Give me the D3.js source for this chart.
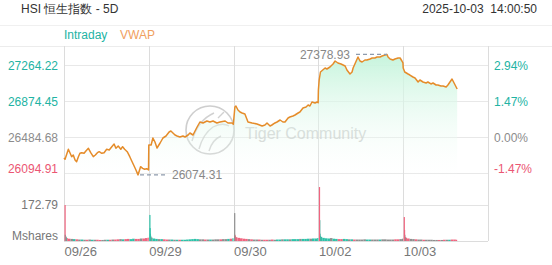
<!DOCTYPE html>
<html><head><meta charset="utf-8">
<script src="https://cdn.jsdelivr.net/npm/d3@7"></script>
<style>
body{margin:0;background:#fff;}
svg{display:block;font-family:"Liberation Sans",Arial,sans-serif;}
</style>
</head><body>
<svg id="c" width="552" height="265"></svg>
<script>
// ---------------- data ----------------
const title = "HSI 恒生指数 - 5D";
const stamp = "2025-10-03  14:00:50";
const tabs = ["Intraday", "VWAP"];
const dayLabels = ["09/26", "09/29", "09/30", "10/02", "10/03"];
const minutesPerDay = 330;
const prevClose = 26484.68;
const priceTicks = [26094.91, 26484.68, 26874.45, 27264.22];
const pctTicks = ["-1.47%", "0.00%", "1.47%", "2.94%"];
const volTick = 172.79;
const volUnit = "Mshares";
const highMinute = 1257, highValue = 27378.93;
const lowMinute = 288, lowValue = 26074.31;

// minute index from the first open (330 trading minutes per day)
const priceMinutes = [
  0,4,17,30,36,43,49,56,62,69,78,86,95,104,114,122,130,137,147,156,166,176,186,195,202,211,221,228,236,246,256,265,271,280,288,298,306,314,322,329,
  330,339,346,354,362,374,385,397,409,416,424,432,440,451,463,471,483,490,502,518,529,541,556,568,580,595,607,627,638,654,659,
  665,669,677,685,693,704,716,732,751,771,782,790,802,809,821,829,841,852,860,872,879,891,899,911,918,930,942,950,957,965,977,985,989,
  990,993,998,1016,1023,1035,1047,1055,1066,1078,1086,1094,1101,1113,1121,1125,1132,1144,1152,1160,1171,1179,1191,1199,1210,1218,1230,1238,1249,1257,1261,1269,1280,1288,1300,1308,1315,1319,
  1320,1326,1339,1346,1358,1366,1378,1385,1397,1409,1416,1428,1436,1448,1455,1467,1475,1487,1494,1502,1510,1518,1526,1530
];
const priceValues = [
  26257.3,26243.2,26351.4,26271.3,26289.8,26235.7,26217.3,26271.4,26308.3,26314.7,26308.2,26336.4,26362.4,26314.7,26271.4,26289.8,26314.7,26325.5,26308.2,26314.7,26351.5,26343.9,26379.7,26408.9,26362.3,26387.2,26351.5,26379.7,26351.5,26325.5,26271.4,26217.3,26181.5,26127.4,26074.31,26163.2,26145.8,26135.0,26141.5,26128.2,
  26398.1,26398.1,26473.9,26430.5,26365.6,26419.7,26473.9,26495.5,26538.8,26549.6,26528.0,26506.3,26495.5,26484.7,26495.5,26484.7,26506.3,26528.0,26506.3,26592.9,26647.1,26636.3,26657.9,26647.1,26657.9,26636.3,26647.1,26657.9,26636.3,26636.3,26622.9,
  26809.5,26820.3,26777.0,26755.4,26744.5,26733.7,26647.1,26636.3,26625.4,26603.8,26614.6,26636.3,26603.8,26614.6,26636.3,26647.1,26668.7,26647.1,26647.1,26690.4,26701.2,26712.0,26722.9,26744.5,26755.4,26798.7,26809.5,26831.1,26820.3,26863.6,26852.8,26863.6,26855.6,
  26993.5,27101.8,27188.4,27231.7,27220.9,27242.6,27275.0,27307.5,27285.9,27275.0,27264.2,27253.4,27210.1,27166.8,27188.4,27231.7,27275.0,27350.8,27307.5,27296.7,27318.3,27318.3,27329.2,27340.0,27340.0,27350.8,27350.8,27361.7,27372.5,27378.93,27350.8,27329.2,27318.3,27329.2,27340.0,27340.0,27307.5,27287.1,
  27231.7,27188.4,27166.8,27155.9,27134.3,27123.5,27080.2,27101.8,27080.2,27069.3,27080.2,27058.6,27069.3,27047.7,27047.7,27036.9,27036.9,27026.0,27047.7,27080.2,27112.6,27069.3,27026.0,27004.4
];

// volume (M shares): first five minutes of each day, then 10-minute buckets (per-minute level)
const volOpen = [
  [172.79, 30, 24, 20, 18],
  [125, 62, 35, 25, 20],
  [134, 30, 25, 20, 18],
  [259, 100, 35, 25, 20],
  [115, 53, 30, 20, 15]
];
const volOpenDir = ["duduu", "uuuud", "nddnd", "duuun", "ddnnn"];
const volBuckets = [
  [14,11,10,9,8,7,7,6,6,7,6,6,6,5,5,6,6,6,7,7,8,9,8,9,10,9,11,10,10,12,12,14,16],
  [16,12,10,9,9,8,7,7,7,6,6,6,6,6,7,8,9,10,9,8,8,7,7,7,7,8,8,8,9,9,10,11,13],
  [18,15,13,11,10,9,8,7,7,7,6,6,6,6,7,6,7,7,8,8,8,8,9,9,9,10,10,10,11,11,12,12,14],
  [20,15,13,12,14,11,10,9,9,10,9,8,8,7,7,7,7,8,7,7,7,7,7,7,8,8,7,7,7,8,8,9,11],
  [16,12,10,9,8,7,7,6,6,6,6,5,5,5,5,6,6,6,7,7,6]
];
const volBucketDir = [
  "ddnudnundnunddnnudnddnudduuddnddd",
  "uuunuddnunuduuuuuuunndnunnndnnudu",
  "dddddndnndnddndnuunuunuuunuuunuuu",
  "uuuunuudduunudnnnnuunnnunnnnnddnn",
  "ddnndnndnnnnndndnuddd"
];
const lastMinute = 1530;

// ---------------- layout ----------------
const W = 552, H = 265;
const L = 64, R = 488;
const frameTop = 46, priceBottom = 183, volBottom = 241;
const teal = "#22b3a3", red = "#eb5673", grayTxt = "#8c8c8c";
const dirColor = {u: "#2ec2a9", d: "#f0647f", n: "#8f8f8f"};

const svg = d3.select("#c");
const totalMin = minutesPerDay * dayLabels.length;
const x = d3.scaleLinear().domain([0, totalMin]).range([L, R]);
const y = d3.scaleLinear().domain([priceTicks[0], priceTicks[3]]).range([173, 65]);
const yv = d3.scaleLinear().domain([0, volTick]).range([volBottom, 205]);

// header
svg.append("text").attr("x", 21).attr("y", 13).attr("font-size", 12).attr("fill", "#333").text(title);
svg.append("text").attr("x", 537).attr("y", 13).attr("text-anchor", "end").attr("font-size", 12)
  .attr("fill", "#333").style("white-space", "pre").text(stamp);
svg.append("line").attr("x1", 0).attr("x2", W).attr("y1", 25.5).attr("y2", 25.5).attr("stroke", "#f0f0f0");
svg.append("line").attr("x1", 0).attr("x2", W).attr("y1", frameTop + 0.5).attr("y2", frameTop + 0.5).attr("stroke", "#ececec");
svg.append("text").attr("x", 64).attr("y", 39).attr("font-size", 12).attr("fill", teal).text(tabs[0]);
svg.append("text").attr("x", 120).attr("y", 39).attr("font-size", 12).attr("fill", "#f0a060").text(tabs[1]);

// gridlines
svg.append("g").selectAll("line").data(priceTicks).join("line")
  .attr("x1", L).attr("x2", R).attr("y1", d => Math.round(y(d)) + 0.5).attr("y2", d => Math.round(y(d)) + 0.5)
  .attr("stroke", "#e8e8e8");
svg.append("line").attr("x1", L).attr("x2", R).attr("y1", Math.round(yv(volTick)) + 0.5).attr("y2", Math.round(yv(volTick)) + 0.5).attr("stroke", "#e3e3e3");
svg.append("line").attr("x1", L).attr("x2", R).attr("y1", volBottom + 0.5).attr("y2", volBottom + 0.5).attr("stroke", "#dcdcdc");
const bounds = d3.range(dayLabels.length + 1).map(i => i * minutesPerDay);
svg.append("g").selectAll("line").data(bounds).join("line")
  .attr("x1", d => Math.round(x(d)) + 0.5).attr("x2", d => Math.round(x(d)) + 0.5)
  .attr("y1", frameTop).attr("y2", volBottom)
  .attr("stroke", "#dcdcdc");

// watermark
const wm = svg.append("g").attr("opacity", 0.8);
wm.append("circle").attr("cx", 210).attr("cy", 130).attr("r", 24).attr("fill", "none").attr("stroke", "#c2c2c2").attr("stroke-width", 1.6);
wm.append("path").attr("d", "M192,141 Q198,120 214,113 M199,149 Q203,134 213,127 Q222,122 229,126 M209,151 Q212,140 221,136 M218,118 L224,112")
  .attr("fill", "none").attr("stroke", "#c6c6c6").attr("stroke-width", 1.4);
wm.append("text").attr("x", 245).attr("y", 139).attr("font-size", 16).attr("fill", "#c2c2c2").text("Tiger Community");

// price area & line
const pts = priceMinutes.map((m, i) => ({m, v: priceValues[i]}));
const defs = svg.append("defs");
const g = defs.append("linearGradient").attr("id", "fillg").attr("gradientUnits", "userSpaceOnUse")
  .attr("x1", 0).attr("y1", y(highValue)).attr("x2", 0).attr("y2", priceBottom);
g.append("stop").attr("offset", 0).attr("stop-color", "#c6f4dc").attr("stop-opacity", 1);
g.append("stop").attr("offset", 1).attr("stop-color", "#ffffff").attr("stop-opacity", 0);
svg.append("path").datum(pts)
  .attr("d", d3.area().x(d => x(d.m)).y0(priceBottom).y1(d => y(d.v)))
  .attr("fill", "url(#fillg)");
svg.append("path").datum(pts)
  .attr("d", d3.line().x(d => x(d.m)).y(d => y(d.v)))
  .attr("fill", "none").attr("stroke", "#e58c2a").attr("stroke-width", 1.5).attr("stroke-linejoin", "round");

// high / low annotations
const hx = x(highMinute), hy = y(highValue);
svg.append("line").attr("x1", hx - 31).attr("x2", hx).attr("y1", hy).attr("y2", hy)
  .attr("stroke", "#8d9aac").attr("stroke-width", 1.2).attr("stroke-dasharray", "4,3");
svg.append("text").attr("x", hx - 37).attr("y", hy).attr("dy", "0.35em").attr("text-anchor", "end")
  .attr("font-size", 12).attr("fill", "#888").text(highValue.toFixed(2));
const lx = x(lowMinute), ly = y(lowValue);
svg.append("line").attr("x1", lx + 2).attr("x2", lx + 30).attr("y1", ly).attr("y2", ly)
  .attr("stroke", "#8d9aac").attr("stroke-width", 1.2).attr("stroke-dasharray", "4,3");
svg.append("text").attr("x", lx + 34).attr("y", ly).attr("dy", "0.35em")
  .attr("font-size", 12).attr("fill", "#888").text(lowValue.toFixed(2));

// axis labels
const tickColor = v => v > prevClose + 0.01 ? teal : (v < prevClose - 0.01 ? red : grayTxt);
priceTicks.forEach((v, i) => {
  const yy = y(v) + (i === 0 ? -4 : 1);
  svg.append("text").attr("x", 58).attr("y", yy).attr("dy", "0.35em").attr("text-anchor", "end")
    .attr("font-size", 12).attr("fill", tickColor(v)).text(v.toFixed(2));
  svg.append("text").attr("x", 494).attr("y", yy).attr("dy", "0.35em")
    .attr("font-size", 12).attr("fill", tickColor(v)).text(pctTicks[i]);
});
svg.append("text").attr("x", 58).attr("y", yv(volTick)).attr("dy", "0.35em").attr("text-anchor", "end")
  .attr("font-size", 12).attr("fill", "#777").text(volTick.toFixed(2));
svg.append("text").attr("x", 58).attr("y", 236).attr("dy", "0.35em").attr("text-anchor", "end")
  .attr("font-size", 12).attr("fill", "#777").text(volUnit);

// volume bars
const bars = [];
dayLabels.forEach((_, d) => {
  const base = d * minutesPerDay;
  volBuckets[d].forEach((v, i) => {
    const m0 = base + 5 + i * 10;
    const m1 = Math.min(m0 + 10, d === dayLabels.length - 1 ? lastMinute : base + minutesPerDay);
    bars.push({m0, m1, v, c: dirColor[volBucketDir[d][i]]});
  });
});
dayLabels.forEach((_, d) => {
  const base = d * minutesPerDay;
  for (let i = volOpen[d].length - 1; i >= 0; i--) {
    bars.push({m0: base + i, m1: base + i + 1, v: volOpen[d][i], c: dirColor[volOpenDir[d][i]], open: true});
  }
});
svg.append("g").selectAll("rect").data(bars).join("rect")
  .attr("x", b => b.open ? x(b.m0) + 0.5 : x(b.m0))
  .attr("width", b => b.open ? 1.2 : Math.max(0.8, x(b.m1) - x(b.m0)))
  .attr("y", b => yv(b.v))
  .attr("height", b => volBottom - yv(b.v))
  .attr("fill", b => b.c);

// date labels
svg.append("g").selectAll("text").data(dayLabels).join("text")
  .attr("x", (d, i) => x(i * minutesPerDay) + 0.5).attr("y", 256)
  .attr("font-size", 13).attr("fill", "#777").text(d => d);
</script>
</body></html>
